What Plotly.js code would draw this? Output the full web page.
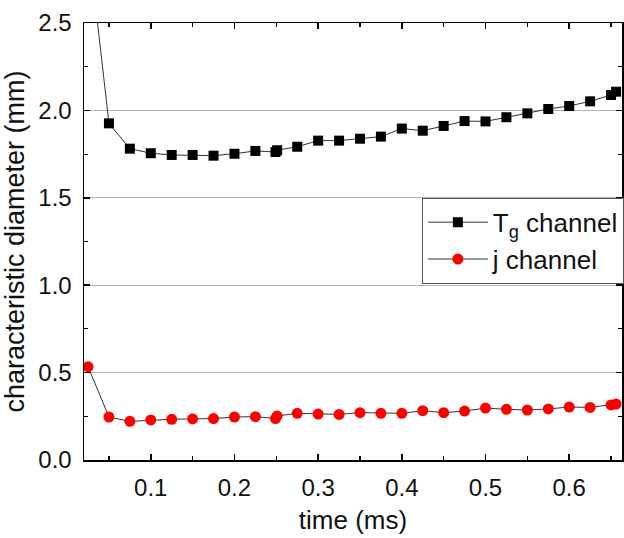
<!DOCTYPE html>
<html>
<head>
<meta charset="utf-8">
<script src="https://cdn.plot.ly/plotly-3.0.1.min.js"></script>
<style>html,body{margin:0;padding:0;background:#fff;}</style>
</head>
<body>
<div id="chart" style="width:624px;height:538px;"></div>
<script>
var timeMs = [0.025, 0.05, 0.075, 0.1, 0.125, 0.15, 0.175, 0.2, 0.225, 0.249, 0.251, 0.275, 0.3, 0.325, 0.35, 0.375, 0.4, 0.425, 0.45, 0.475, 0.5, 0.525, 0.55, 0.575, 0.6, 0.625, 0.65, 0.656];
var tgChannel = [2.98, 1.926, 1.781, 1.755, 1.745, 1.745, 1.741, 1.752, 1.768, 1.762, 1.772, 1.792, 1.827, 1.827, 1.838, 1.85, 1.896, 1.884, 1.911, 1.939, 1.937, 1.961, 1.983, 2.008, 2.025, 2.052, 2.088, 2.107];
var jChannel = [0.534, 0.246, 0.221, 0.229, 0.233, 0.235, 0.237, 0.246, 0.248, 0.237, 0.252, 0.267, 0.263, 0.261, 0.271, 0.267, 0.267, 0.282, 0.271, 0.280, 0.297, 0.290, 0.286, 0.292, 0.303, 0.301, 0.315, 0.320];
var xTickVals = [0.1, 0.2, 0.3, 0.4, 0.5, 0.6];
var xTickText = ['0.1', '0.2', '0.3', '0.4', '0.5', '0.6'];
var yTickVals = [0.0, 0.5, 1.0, 1.5, 2.0, 2.5];
var yTickText = ['0.0', '0.5', '1.0', '1.5', '2.0', '2.5'];

var font = 'Liberation Sans';
var traces = [
  {x: timeMs, y: tgChannel, name: 'T<sub>g</sub> channel', mode: 'lines+markers', legendgroup: 'a',
   line: {color: '#333', width: 1}, marker: {symbol: 'square', size: 10, color: '#000'}},
  {x: timeMs, y: jChannel, name: 'j channel', mode: 'lines+markers', legendgroup: 'b',
   line: {color: '#333', width: 1}, marker: {symbol: 'circle', size: 11, color: '#ff0000'}}
];
var axisCommon = {
  showline: true, linecolor: '#000', linewidth: 1.5, mirror: 'ticks',
  ticks: 'inside', ticklen: 6, tickwidth: 1.5, tickcolor: '#000',
  tickfont: {family: font, size: 24, color: '#111'}, zeroline: false
};
var layout = {
  width: 624, height: 538,
  margin: {l: 84, r: 0, t: 23, b: 78},
  paper_bgcolor: '#fff', plot_bgcolor: '#fff',
  showlegend: true,
  legend: {x: 0.628, y: 0.6, xanchor: 'left', yanchor: 'top', bgcolor: '#fff',
    bordercolor: '#555', borderwidth: 1, font: {family: font, size: 26, color: '#111'},
    tracegroupgap: 0, traceorder: 'grouped', itemwidth: 60},
  xaxis: Object.assign({}, axisCommon, {
    range: [0.0202, 0.6631], tickvals: xTickVals, ticktext: xTickText, showgrid: false,
    ticklabelstandoff: 6,
    minor: {dtick: 0.05, tick0: 0, ticks: 'inside', ticklen: 4, tickwidth: 1.2, tickcolor: '#000'},
    title: {text: 'time (ms)', font: {family: font, size: 26, color: '#111'}, standoff: 10}
  }),
  yaxis: Object.assign({}, axisCommon, {
    range: [0, 2.5], tickvals: yTickVals, ticktext: yTickText, showgrid: true, gridcolor: '#b4b4b4', gridwidth: 1,
    ticklabelstandoff: 6,
    minor: {dtick: 0.25, tick0: 0, ticks: 'inside', ticklen: 4, tickwidth: 1.2, tickcolor: '#000', showgrid: false},
    title: {text: 'characteristic diameter (mm)', font: {family: font, size: 27, color: '#111'}, standoff: 6}
  })
};
Plotly.newPlot('chart', traces, layout, {displayModeBar: false, staticPlot: true});
</script>
</body>
</html>
